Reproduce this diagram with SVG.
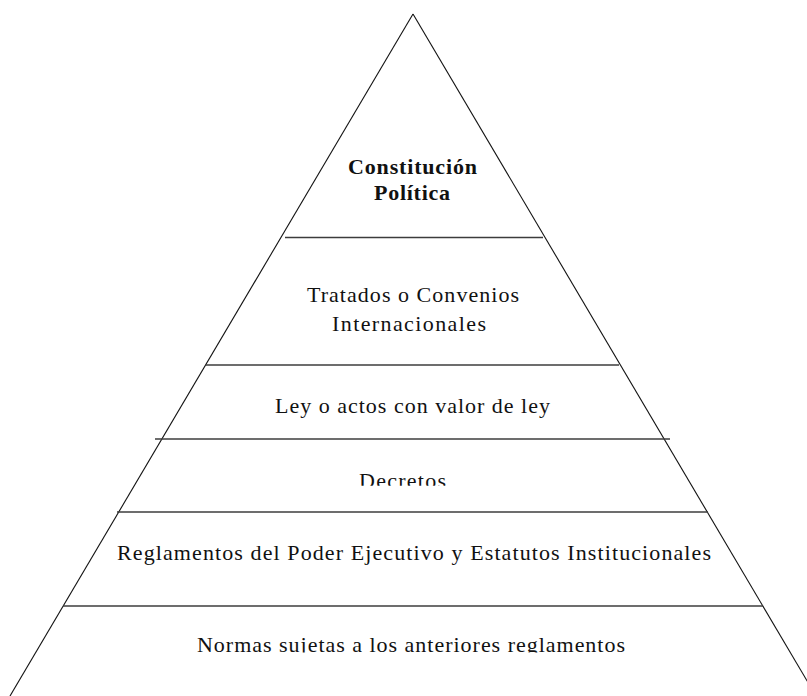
<svg xmlns="http://www.w3.org/2000/svg" width="807" height="696" viewBox="0 0 807 696">
  <style>
    .side { stroke: #111; stroke-width: 1.1; fill: none; }
    .divider { stroke: #3c3c3c; stroke-width: 1.7; fill: none; }
    .label { font-family: "Liberation Serif", "Times New Roman", "DejaVu Serif", serif; font-size: 22px; fill: #111; }
    .title { font-weight: bold; }
  </style>
  <defs>
    <!-- text boxes that cut off the lower part of some labels -->
    <clipPath id="clip-decretos"><rect x="300" y="460" width="200" height="25.7"/></clipPath>
    <clipPath id="clip-normas"><rect x="150" y="620" width="520" height="32.5"/></clipPath>
  </defs>
  <rect width="807" height="696" fill="#fff"/>

  <!-- pyramid outline and tier dividers -->
  <g id="pyramid-outline">
    <line class="side" x1="413" y1="14" x2="10" y2="696"/>
    <line class="side" x1="413" y1="14" x2="816" y2="696"/>
    <line class="divider" x1="285" y1="237.5" x2="543" y2="237.5"/>
    <line class="divider" x1="206" y1="365" x2="619" y2="365"/>
    <line class="divider" x1="155" y1="439" x2="670" y2="439"/>
    <line class="divider" x1="117" y1="512" x2="708" y2="512"/>
    <line class="divider" x1="63" y1="606" x2="763" y2="606"/>
  </g>

  <g id="tier-constitucion">
    <text class="label title" x="348" y="174" textLength="129" lengthAdjust="spacing">Constitución</text>
    <text class="label title" x="374" y="200" textLength="76" lengthAdjust="spacing">Política</text>
  </g>

  <g id="tier-tratados">
    <text class="label" x="307" y="302" textLength="212" lengthAdjust="spacing">Tratados o Convenios</text>
    <text class="label" x="332" y="331" textLength="154" lengthAdjust="spacing">Internacionales</text>
  </g>

  <g id="tier-ley">
    <text class="label" x="275" y="413" textLength="275" lengthAdjust="spacing">Ley o actos con valor de ley</text>
  </g>

  <g id="tier-decretos" clip-path="url(#clip-decretos)">
    <text class="label" x="359" y="488" textLength="87" lengthAdjust="spacing">Decretos</text>
  </g>

  <g id="tier-reglamentos">
    <text class="label" x="117" y="560" textLength="594" lengthAdjust="spacing">Reglamentos del Poder Ejecutivo y Estatutos Institucionales</text>
  </g>

  <g id="tier-normas" clip-path="url(#clip-normas)">
    <text class="label" x="197" y="652" textLength="428" lengthAdjust="spacing">Normas sujetas a los anteriores reglamentos</text>
  </g>
</svg>
